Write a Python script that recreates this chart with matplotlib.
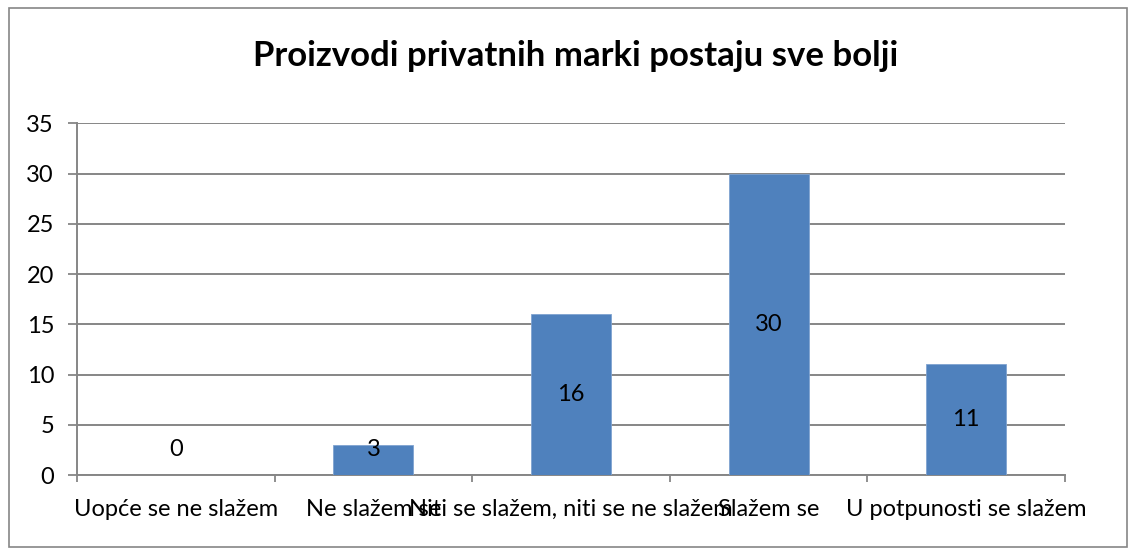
import matplotlib.pyplot as plt
import matplotlib.patches as patches

# podaci
kategorije = ['Uopće se ne slažem', 'Ne slažem se', 'Niti se slažem, niti se ne slažem',
              'Slažem se', 'U potpunosti se slažem']
vrijednosti = [0, 3, 16, 30, 11]

plt.rcParams['font.family'] = ['Lato', 'DejaVu Sans']

fig = plt.figure(figsize=(11.3, 5.51), dpi=100)
ax = fig.add_axes([0.0681, 0.1379, 0.8744, 0.6383])

x = range(len(kategorije))
ax.bar(x, vrijednosti, width=0.405, color='#4F81BD', edgecolor='#7FA3D0', linewidth=0.6, zorder=3)

# oznake vrijednosti
for i, v in enumerate(vrijednosti):
    ax.text(i, max(v / 2, 2.5), str(v), ha='center', va='center', fontsize=17, color='black', zorder=4)

ax.set_xlim(-0.5, len(kategorije) - 0.5)
ax.set_ylim(0, 35)
ax.set_yticks(range(0, 36, 5))
ax.set_xticks(list(x))
ax.set_xticklabels(kategorije, fontsize=17)
ax.set_xticks([i - 0.5 for i in range(len(kategorije) + 1)], minor=True)
ax.tick_params(axis='x', which='major', length=0, pad=17)
ax.tick_params(axis='x', which='minor', length=5, width=1.3, color='#868686')
ax.tick_params(axis='y', labelsize=17, length=6.5, width=1.3, color='#868686', pad=10)

ax.yaxis.grid(True, color='#868686', linewidth=1.4, zorder=0)
for s in ['top', 'right']:
    ax.spines[s].set_visible(False)
for s in ['left', 'bottom']:
    ax.spines[s].set_color('#868686')
    ax.spines[s].set_linewidth(1.4)

fig.text(0.509, 0.898, 'Proizvodi privatnih marki postaju sve bolji', ha='center', va='center',
         fontsize=25, fontweight='bold')

# okvir grafikona
fig.patches.append(patches.Rectangle((0.008, 0.008), 0.989, 0.978, transform=fig.transFigure,
                                     fill=False, edgecolor='#868686', linewidth=1.2))

plt.savefig('out.png', dpi=100)
